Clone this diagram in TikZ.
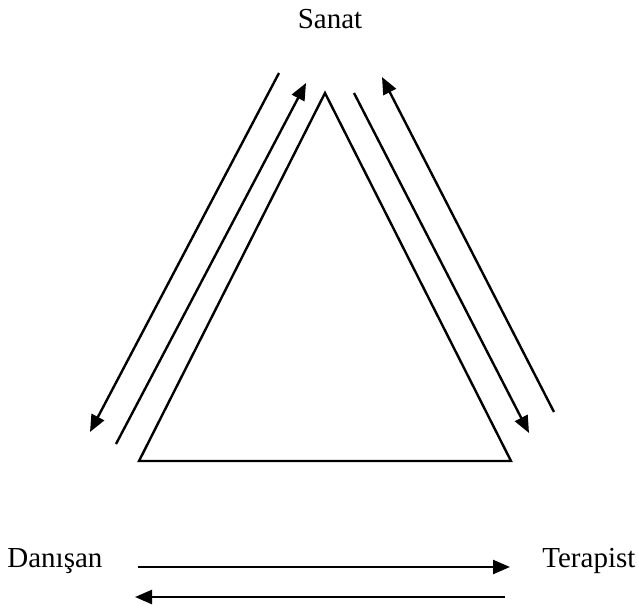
\documentclass[tikz,border=0pt]{standalone}
\usepackage{fontspec}
\setmainfont{Liberation Serif}
\usetikzlibrary{arrows.meta}

\begin{document}
\begin{tikzpicture}[
    x = 0.5pt, y = -0.5pt,
 line/.style = {line width=1.2pt},
  arr/.style = {line, -{Triangle[length=8.5pt, width=7pt]}},
  lbl/.style = {anchor=base, inner sep=0pt,
                font=\fontsize{14.5}{17}\selectfont},
                    ]
\useasboundingbox (0,0) rectangle (639,606);
% labels
\node[lbl] (sanat) at (330,28) {Sanat};
\node[lbl, anchor=base west] (danisan)  at (7,567)   {Danışan};
\node[lbl, anchor=base west] (terapist) at (542,567) {Terapist};
% triangle
\coordinate (apex) at (325,93);
\coordinate (bl)   at (139,461);
\coordinate (br)   at (511,461);
\draw[line, line join=miter] (apex) -- (bl) -- (br) -- cycle;
% left side
\coordinate (L1a) at (279,73);   \coordinate (L1b) at (90,432);
\coordinate (L2a) at (116,444);  \coordinate (L2b) at (306,83);
\draw[arr] (L1a) -- (L1b);
\draw[arr] (L2a) -- (L2b);
% right side
\coordinate (R1a) at (354,93);   \coordinate (R1b) at (529,433);
\coordinate (R2a) at (554,412);  \coordinate (R2b) at (382,77);
\draw[arr] (R1a) -- (R1b);
\draw[arr] (R2a) -- (R2b);
% bottom
\coordinate (B1a) at (138,567);  \coordinate (B1b) at (510,567);
\coordinate (B2a) at (505,597);  \coordinate (B2b) at (135,597);
\draw[arr] (B1a) -- (B1b);
\draw[arr] (B2a) -- (B2b);
\end{tikzpicture}
\end{document}
